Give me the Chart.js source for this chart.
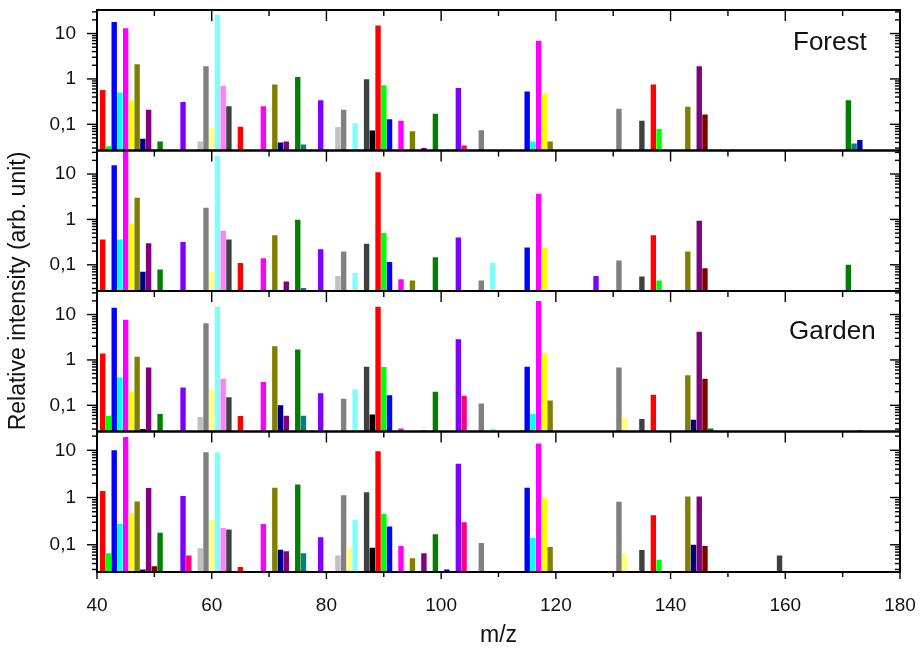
<!DOCTYPE html>
<html>
<head>
<meta charset="utf-8">
<script src="https://cdn.jsdelivr.net/npm/chart.js"></script>
<style>
  body { margin: 0; background: #fff; }
  canvas { display: block; }
</style>
</head>
<body>
<canvas id="chart" width="922" height="653"></canvas>
<script>
// m/z positions of the bars
const mz = [41, 42, 43, 44, 45, 46, 47, 48, 49, 50, 51, 55, 56, 58, 59, 60, 61, 62, 63, 65,
    69, 70, 71, 72, 73, 75, 76, 79, 82, 83, 84, 85, 87, 88, 89, 90, 91, 93, 95, 97,
    99, 101, 103, 104, 107, 109, 115, 116, 117, 118, 119, 127, 131, 132, 135, 137, 138, 143, 144, 145,
    146, 147, 159, 171, 172, 173];

// relative intensities, one array per panel (top to bottom)
const forest1 = [0.57, 0.033, 18, 0.50, 13, 0.34, 2.1, 0.048, 0.21, null, 0.042, 0.31, null, 0.042, 1.9, 0.084, 26, 0.70, 0.25, 0.088,
    0.25, null, 0.75, 0.040, 0.042, 1.1, 0.036, 0.34, 0.087, 0.21, null, 0.105, 0.98, 0.073, 15, 0.73, 0.13, 0.12, 0.070, 0.030,
    0.17, null, 0.63, 0.034, 0.074, null, 0.53, 0.042, 6.9, 0.48, 0.042, null, 0.22, null, 0.12, 0.75, 0.079, 0.245, null, 1.9,
    0.165, null, null, 0.34, 0.038, 0.045];
const forest2 = [0.36, null, 15.7, 0.36, 33, 0.81, 3.0, 0.070, 0.30, null, 0.079, 0.32, null, null, 1.8, 0.070, 25, 0.56, 0.36, 0.11,
    0.14, null, 0.45, null, 0.043, 0.98, 0.031, 0.22, 0.057, 0.196, null, 0.066, 0.29, null, 10.9, 0.50, 0.115, 0.048, 0.045, null,
    0.146, null, 0.40, null, 0.045, 0.111, 0.24, null, 3.7, 0.24, null, 0.057, 0.124, null, 0.055, 0.45, 0.045, 0.196, null, 0.935,
    0.084, null, null, 0.10, null, null];
const garden1 = [1.39, 0.059, 14.1, 0.41, 7.7, 0.198, 1.17, 0.030, 0.68, null, 0.064, 0.247, null, 0.055, 6.4, 0.23, 14.8, 0.386, 0.15, 0.058,
    0.325, 0.028, 1.99, 0.10, 0.059, 1.7, 0.059, 0.185, null, 0.14, null, 0.227, 0.71, 0.063, 14.8, 0.70, 0.167, 0.031, null, 0.028,
    0.198, null, 2.84, 0.162, 0.11, 0.031, 0.71, 0.065, 19.9, 1.39, 0.127, null, 0.68, 0.053, 0.05, 0.17, null, 0.457, 0.048, 4.2,
    0.386, 0.031, null, null, null, 0.028];
const garden2 = [1.38, 0.066, 10, 0.28, 19.2, 0.47, 0.82, 0.030, 1.59, 0.035, 0.18, 1.08, 0.059, 0.084, 9.1, 0.34, 9.1, 0.226, 0.21, 0.034,
    0.275, null, 1.62, 0.078, 0.073, 1.88, 0.066, 0.144, 0.059, 1.12, 0.085, 0.34, 1.29, 0.086, 9.6, 0.45, 0.245, 0.094, 0.052, 0.066,
    0.166, 0.030, 5.2, 0.30, 0.109, null, 1.62, 0.139, 13.9, 0.97, 0.09, null, 0.81, 0.065, 0.077, 0.42, 0.048, 1.05, 0.10, 1.05,
    0.094, null, 0.059, null, null, null];

const panelSeries = [forest1, forest2, garden1, garden2];
const panelIds = ['y1', 'y2', 'y3', 'y4'];
const panelLabels = ['Forest', '', 'Garden', ''];

const xTickValues = [40, 60, 80, 100, 120, 140, 160, 180];
const xTickLabels = ['40', '60', '80', '100', '120', '140', '160', '180'];
const yTickValues = [0.1, 1, 10];
const yTickLabels = ['0,1', '1', '10'];

// Origin colour cycle, starting at m/z 40
const palette = ['#000000', '#ff0000', '#00ff00', '#0000ff', '#00ffff', '#ff00ff', '#ffff00', '#808000',
    '#000080', '#800080', '#800000', '#008000', '#008080', '#0000a0', '#ff8000', '#8000ff',
    '#ff0080', '#ffffff', '#c0c0c0', '#808080', '#ffff80', '#80ffff', '#ff80ff', '#404040'];
const barColors = mz.map(m => palette[(m - 40) % 24]);

const FONT = '"Liberation Sans", Arial, sans-serif';
const TEXT = '#111';

function yScale(id, max) {
    return {
        type: 'logarithmic',
        position: 'left',
        stack: 'panels',
        stackWeight: 1,
        min: 0.0265,
        max: max,
        grid: { display: false, drawTicks: false },
        border: { display: false },
        afterBuildTicks: s => { s.ticks = yTickValues.map(v => ({ value: v })); },
        afterFit: s => { s.width = 97; s.paddingTop = 0; s.paddingBottom = 0; },
        ticks: {
            autoSkip: false,
            padding: 21,
            color: TEXT,
            font: { family: FONT, size: 19 },
            callback: v => yTickLabels[yTickValues.indexOf(v)]
        }
    };
}

function line(ctx, x1, y1, x2, y2) {
    ctx.beginPath();
    ctx.moveTo(x1, y1);
    ctx.lineTo(x2, y2);
    ctx.stroke();
}

const framePlugin = {
    id: 'frame',
    afterDraw(chart) {
        const ctx = chart.ctx;
        const { left, right, top, bottom } = chart.chartArea;
        const xs = chart.scales.x;
        ctx.save();
        ctx.strokeStyle = '#000';
        panelIds.forEach((id, p) => {
            const s = chart.scales[id];
            ctx.lineWidth = 1.4;
            for (let e = -2; e <= 1; e++) {
                for (let k = 1; k <= 9; k++) {
                    const v = k * Math.pow(10, e);
                    if (v < s.min || v > s.max) continue;
                    const y = s.getPixelForValue(v);
                    const len = k === 1 ? 10 : 5;
                    line(ctx, left - len, y, left, y);
                    line(ctx, right - len, y, right, y);
                }
            }
            for (let m = 40; m <= 180; m += 10) {
                const x = xs.getPixelForValue(m);
                line(ctx, x, s.top, x, s.top + (m % 20 === 0 ? 11 : 6));
            }
            ctx.lineWidth = 2;
            ctx.strokeRect(left, s.top, right - left, s.bottom - s.top);

            if (panelLabels[p]) {
                ctx.fillStyle = TEXT;
                ctx.font = '26px ' + FONT;
                ctx.textAlign = 'left';
                ctx.textBaseline = 'alphabetic';
                ctx.fillText(panelLabels[p], p === 0 ? 793 : 789, s.top + (p === 0 ? 40 : 48));
            }
        });
        ctx.lineWidth = 1.4;
        for (let m = 40; m <= 180; m += 10) {
            const x = xs.getPixelForValue(m);
            line(ctx, x, bottom, x, bottom + (m % 20 === 0 ? 7 : 5));
        }
        // y axis title
        ctx.fillStyle = TEXT;
        ctx.font = '23px ' + FONT;
        ctx.textAlign = 'center';
        ctx.textBaseline = 'middle';
        ctx.translate(19, (top + bottom) / 2);
        ctx.rotate(-Math.PI / 2);
        ctx.fillText('Relative intensity (arb. unit)', 0, 0);
        ctx.restore();
    }
};

const datasets = panelSeries.map((vals, p) => ({
    label: panelIds[p],
    yAxisID: panelIds[p],
    data: mz.map((m, i) => ({ x: m, y: vals[i] })),
    backgroundColor: barColors,
    grouped: false,
    barPercentage: 0.94,
    categoryPercentage: 1
}));

new Chart(document.getElementById('chart'), {
    type: 'bar',
    data: { datasets: datasets },
    options: {
        responsive: false,
        animation: false,
        layout: { padding: { left: 0, right: 22, top: 10, bottom: 0 } },
        plugins: { legend: { display: false }, tooltip: { enabled: false } },
        scales: {
            x: {
                type: 'linear',
                offset: false,
                min: 40,
                max: 180,
                grid: { display: false, drawTicks: false, offset: false },
                border: { display: false },
                afterBuildTicks: s => { s.ticks = xTickValues.map(v => ({ value: v })); },
                afterFit: s => { s.height = 81; s.paddingLeft = 0; s.paddingRight = 0; },
                ticks: {
                    autoSkip: false,
                    maxRotation: 0,
                    padding: 22,
                    color: TEXT,
                    font: { family: FONT, size: 19 },
                    callback: v => xTickLabels[xTickValues.indexOf(v)]
                },
                title: {
                    display: true,
                    text: 'm/z',
                    color: TEXT,
                    font: { family: FONT, size: 23 },
                    padding: { top: 0, bottom: 4 }
                }
            },
            y4: yScale('y4', 25),
            y3: yScale('y3', 33),
            y2: yScale('y2', 33),
            y1: yScale('y1', 33)
        }
    },
    plugins: [framePlugin]
});
</script>
</body>
</html>
